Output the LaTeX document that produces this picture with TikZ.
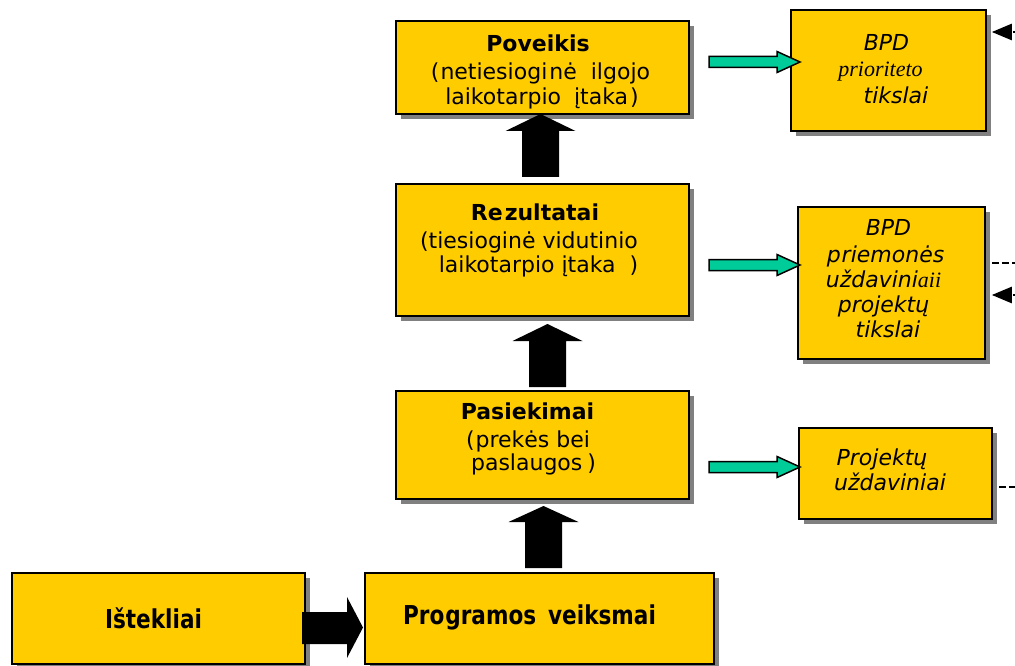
\documentclass[tikz,border=0pt]{standalone}
\usepackage{fontspec}
\setmainfont{DejaVu Sans}
\newfontfamily\timesfam{Liberation Serif}
\newfontfamily\narrowfam{DejaVu Sans}[FakeStretch=0.83]
\usetikzlibrary{shadows,arrows.meta}

\definecolor{boxyellow}{RGB}{255,204,0}
\definecolor{shadowgray}{RGB}{128,128,128}
\definecolor{arrowgreen}{RGB}{0,204,153}

% black block arrow pointing up: centre x, tip y, head base y, tail y
\newcommand\uparr[4]{%
  \fill (#1,#2) -- (#1+35,#3) -- (#1+18.5,#3) -- (#1+18.5,#4)
        -- (#1-18.5,#4) -- (#1-18.5,#3) -- (#1-35,#3) -- cycle;}
% green block arrow pointing right: tail x, centre y
\newcommand\greenarr[2]{%
  \filldraw[fill=arrowgreen, draw=black, line width=1.5pt, line join=miter]
     (#1,#2-5.5) -- (#1+68,#2-5.5) -- (#1+68,#2-10.5) -- (#1+91,#2)
     -- (#1+68,#2+10.5) -- (#1+68,#2+5.5) -- (#1,#2+5.5) -- cycle;}

\begin{document}
\begin{tikzpicture}[x=1pt,y=-1pt,
  box/.style={draw, line width=1.8pt, fill=boxyellow, inner sep=0pt,
    anchor=north west,
    general shadow={fill=shadowgray, shadow xshift=5pt, shadow yshift=-5pt}},
  txt/.style={inner sep=0pt, anchor=base, font=\fontsize{22}{26}\selectfont},
  ttl/.style={txt, font=\fontsize{22}{26}\selectfont\bfseries},
  bigttl/.style={txt, font=\fontsize{26}{30}\narrowfam\bfseries},
  itx/.style={txt, font=\fontsize{22}{26}\selectfont\itshape},
  dashline/.style={line width=2.5pt, dash pattern=on 7pt off 3pt},
  inarrow/.style={dashline, -{Triangle[length=20pt,width=16pt]}, shorten >=5pt}]

\useasboundingbox (0,0) rectangle (1015,666);

% main chain of boxes
\node[box, minimum width=293pt, minimum height=93pt]  (pov) at (395,20)  {};
\node[box, minimum width=293pt, minimum height=132pt] (rez) at (395,183) {};
\node[box, minimum width=293pt, minimum height=108pt] (pas) at (395,390) {};
\node[box, minimum width=293pt, minimum height=91pt]  (ist) at (11,572)  {};
\node[box, minimum width=349pt, minimum height=91pt]  (prg) at (364,572) {};

% goal boxes on the right
\node[box, minimum width=195pt, minimum height=121pt] (bpd1) at (790,9)   {};
\node[box, minimum width=187pt, minimum height=152pt] (bpd2) at (797,206) {};
\node[box, minimum width=193pt, minimum height=91pt]  (proj) at (798,427) {};

% texts
\node[ttl] (pov1) at (538,52)  {Poveikis};
\node[txt] (pov2) at (540.5,80) {(\hspace{1pt}netiesiogi\hspace{2pt}nė\hspace{14pt}ilgojo};
\node[txt] (pov3) at (542,105) {laikotarpio\hspace{13pt}įtaka\hspace{2pt})};

\node[ttl] (rez1) at (535,220) {Re\hspace{2pt}zultatai};
\node[txt] (rez2) at (529,248) {(tiesioginė vidutinio};
\node[txt] (rez3) at (538.5,272) {laikotarpio įtaka\hspace{14pt})};

\node[ttl] (pas1) at (527.5,419) {Pasiekimai};
\node[txt] (pas2) at (528,447) {(\hspace{1pt}prekės bei};
\node[txt] (pas3) at (533.5,470) {paslaugos\hspace{5pt})};

\node[bigttl] (ist1) at (153.5,628) {Ištekliai};
\node[bigttl] (prg1) at (529.5,624) {Pro\hspace{1pt}gramos\hspace{12pt}veiksmai};

\node[itx] (bpd1a) at (886.5,51) {BPD};
\node[txt, font=\fontsize{22}{26}\timesfam\itshape] (bpd1b) at (880.5,77) {prioriteto};
\node[itx] (bpd1c) at (896,104) {tikslai};

\node[itx] (bpd2a) at (888.5,235) {BPD};
\node[itx] (bpd2b) at (885.5,262) {p\hspace{1pt}riemonės};
\node[itx] (bpd2c) at (883.5,287) {uždavini{\timesfam\itshape aii}};
\node[itx] (bpd2d) at (883.5,312) {projektų};
\node[itx] (bpd2e) at (888,337) {tikslai};

\node[itx] (proj1) at (882,465) {Projektų};
\node[itx] (proj2) at (890,490) {uždaviniai};

% black block arrows along the chain
\uparr{540.5}{114}{131}{177}
\uparr{547.5}{324}{341}{387}
\uparr{543.5}{506}{522}{568}
\fill (302,612) -- (347,612) -- (347,597) -- (363,627.5) -- (347,658)
      -- (347,644) -- (302,644) -- cycle;

% green arrows towards the goal boxes
\greenarr{709}{62}
\greenarr{709}{265}
\greenarr{709}{467}

% dashed links leaving the picture on the right
\coordinate (in1)  at (1040,32);
\coordinate (out2) at (1040,263);
\coordinate (in2)  at (1040,295);
\coordinate (out3) at (1040,487);
\draw[inarrow] (in1) -- (in1 -| bpd1.east);
\draw[dashline, shorten <=6pt] (out2 -| bpd2.east) -- (out2);
\draw[inarrow, shorten >=6pt] (in2) -- (in2 -| bpd2.east);
\draw[dashline, shorten <=6pt] (out3 -| proj.east) -- (out3);
\end{tikzpicture}
\end{document}
